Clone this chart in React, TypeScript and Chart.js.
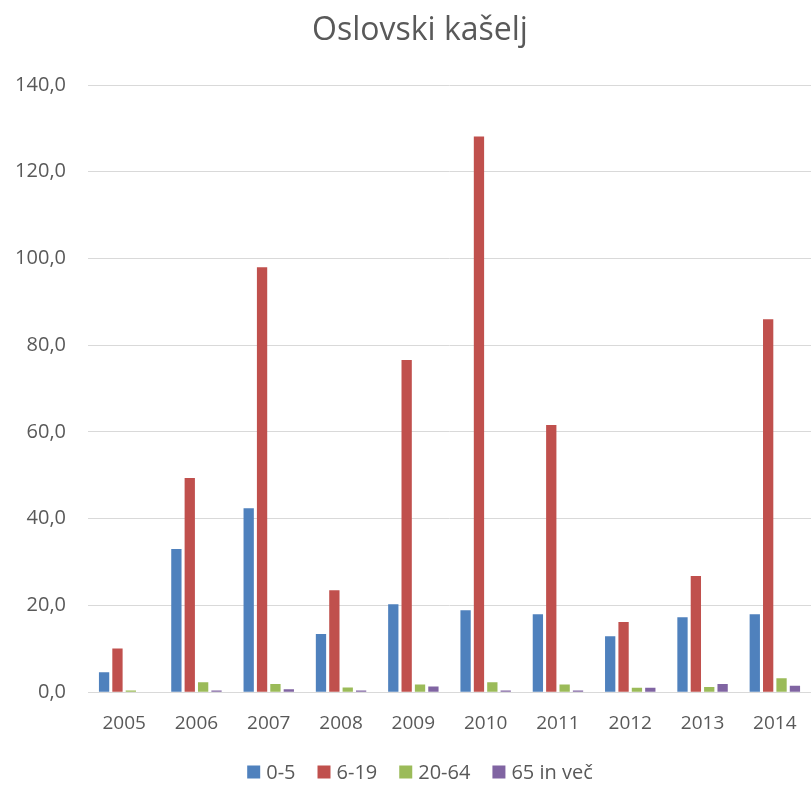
import React, { useEffect, useRef } from "react";
import { Chart, registerables } from "chart.js";

Chart.register(...registerables);

const years = ["2005", "2006", "2007", "2008", "2009", "2010", "2011", "2012", "2013", "2014"];
const age0to5 = [4.6, 33.0, 42.4, 13.4, 20.3, 18.9, 18.0, 12.9, 17.3, 18.0];
const age6to19 = [10.1, 49.4, 98.0, 23.5, 76.6, 128.1, 61.6, 16.2, 26.8, 86.0];
const age20to64 = [0.4, 2.3, 1.9, 1.1, 1.8, 2.3, 1.8, 1.0, 1.2, 3.2];
const age65plus = [0, 0.4, 0.7, 0.4, 1.3, 0.4, 0.4, 1.0, 1.9, 1.5];
const seriesNames = ["0-5", "6-19", "20-64", "65 in več"];
const seriesColors = ["#4F81BD", "#C0504D", "#9BBB59", "#8064A2"];
const titleText = "Oslovski kašelj";

const FONT = "'Open Sans', sans-serif";
const TEXT = "#595959";

const titlePlugin = {
  id: "customTitle",
  afterDraw(chart: any) {
    const ctx = chart.ctx;
    ctx.save();
    ctx.font = `normal 32px ${FONT}`;
    ctx.fillStyle = TEXT;
    ctx.textAlign = "center";
    ctx.textBaseline = "middle";
    ctx.fillText(titleText, 420, 31);
    ctx.restore();
  },
};

const legendPlugin = {
  id: "customLegend",
  afterDraw(chart: any) {
    const ctx = chart.ctx;
    ctx.save();
    ctx.font = `normal 20px ${FONT}`;
    const box = 13;
    const gapText = 6;
    const gapItem = 22;
    const items = chart.data.datasets.map((ds: any) => ({
      text: ds.label,
      color: ds.backgroundColor,
      w: box + gapText + ctx.measureText(ds.label).width,
    }));
    const total = items.reduce((s: number, it: any) => s + it.w, 0) + gapItem * (items.length - 1);
    let x = 420 - total / 2;
    const cy = 772;
    ctx.textBaseline = "middle";
    ctx.textAlign = "left";
    items.forEach((it: any) => {
      ctx.fillStyle = it.color;
      ctx.fillRect(x, cy - box / 2, box, box);
      ctx.fillStyle = TEXT;
      ctx.fillText(it.text, x + box + gapText, cy + 1);
      x += it.w + gapItem;
    });
    ctx.restore();
  },
};

export default function App() {
  const ref = useRef<HTMLCanvasElement | null>(null);

  useEffect(() => {
    if (!ref.current) return;
    const values = [age0to5, age6to19, age20to64, age65plus];
    const chart = new Chart(ref.current, {
      type: "bar",
      data: {
        labels: years,
        datasets: values.map((v, i) => ({
          label: seriesNames[i],
          data: v,
          backgroundColor: seriesColors[i],
          borderWidth: 0,
          categoryPercentage: 0.74,
          barPercentage: 0.77,
        })),
      },
      plugins: [titlePlugin, legendPlugin],
      options: {
        animation: false,
        responsive: true,
        maintainAspectRatio: false,
        layout: { padding: { left: 0, right: 0, top: 85, bottom: 42 } },
        plugins: {
          title: { display: false },
          legend: { display: false },
          tooltip: { enabled: false },
        },
        scales: {
          x: {
            offset: true,
            grid: { display: false, offset: true },
            border: { display: true, color: "#D9D9D9", width: 1 },
            ticks: {
              color: TEXT,
              font: { family: FONT, size: 19 },
              padding: 12,
              maxRotation: 0,
            },
          },
          y: {
            min: 0,
            max: 140,
            ticks: {
              stepSize: 20,
              color: TEXT,
              font: { family: FONT, size: 20 },
              padding: 22,
              callback: (v: any) => Number(v).toFixed(1).replace(".", ","),
            },
            grid: { color: "#D9D9D9", lineWidth: 1, drawTicks: false },
            border: { display: false },
            afterFit: (scale: any) => {
              scale.width = 88;
            },
          },
        },
      },
    });
    return () => chart.destroy();
  }, []);

  return (
    <div style={{ position: "fixed", left: 0, top: 0, width: 811, height: 789, background: "#fff" }}>
      <canvas ref={ref} />
    </div>
  );
}
